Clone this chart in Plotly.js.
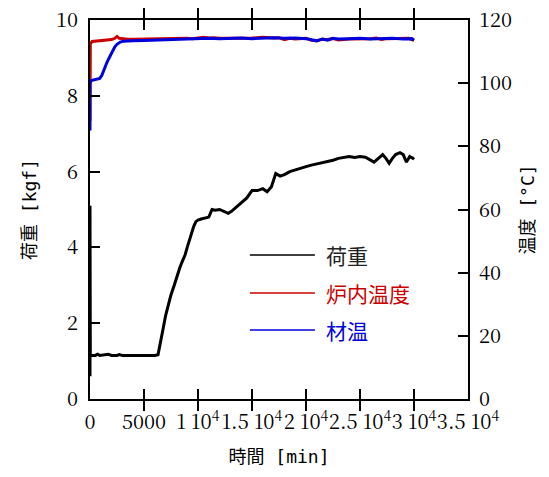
<!DOCTYPE html>
<html><head><meta charset="utf-8">
<script src="https://cdn.plot.ly/plotly-3.0.1.min.js"></script>
<style>body{margin:0;background:#fff}#c{width:549px;height:477px}</style>
</head><body><div id="c"></div>
<script>
const seriesNames = ['荷重', '炉内温度', '材温'];
const seriesColors = ['#000000', '#cc0000', '#0000dd'];

const loadT = [0,0,30,500,700,900,1500,1700,2000,2500,2700,3000,4000,5000,6000,6300,6500,6800,7000,7300,7500,7800,8000,8300,8500,8800,9000,9300,9600,9800,10000,10300,10700,11000,11300,11600,12000,12400,12800,13100,13500,14000,14500,15000,15500,16000,16400,16800,17200,17600,18000,18500,19000,19500,20000,20500,21000,21500,22000,22500,23000,23500,24000,24500,25000,25500,26000,26300,26700,27100,27400,27700,28000,28300,28700,29000,29300,29600,29900,30000];
const loadV = [0.6,5.1,1.15,1.15,1.18,1.15,1.16,1.18,1.15,1.15,1.17,1.15,1.15,1.15,1.15,1.17,1.5,1.9,2.2,2.55,2.75,3.0,3.2,3.45,3.6,3.8,4.0,4.3,4.55,4.68,4.72,4.75,4.78,4.8,5.0,4.98,5.0,4.95,4.9,4.95,5.05,5.15,5.3,5.5,5.5,5.55,5.47,5.6,5.95,5.88,5.92,6.0,6.05,6.1,6.13,6.17,6.2,6.25,6.27,6.3,6.35,6.38,6.4,6.37,6.4,6.38,6.3,6.25,6.35,6.45,6.35,6.22,6.35,6.45,6.5,6.45,6.25,6.4,6.35,6.38];

const furnT = [0,0,30,200,500,800,1200,1500,2000,2300,2500,2700,3000,3500,4000,5000,6000,6500,7000,8000,9000,9500,10000,10500,11000,11500,12000,13000,14000,15000,16000,17000,17500,18000,18500,19000,20000,20500,21000,21500,22000,22500,23000,24000,25000,26000,26500,27000,27500,28000,29000,29500,30000];
const furnV = [88,109,112.5,113.2,113.3,113.4,113.5,113.6,113.8,114.2,114.8,114.2,114.0,113.9,113.9,114.0,113.9,114.1,114.1,114.1,114.2,114.1,114.2,114.5,114.3,114.4,114.2,114.1,114.2,114.3,114.5,114.3,114.4,113.8,114.2,114.0,114.2,113.6,113.4,113.9,113.8,114.1,113.7,114.0,114.0,114.1,114.3,113.8,114.1,114.1,114.0,114.2,113.6];

const matT = [0,0,100,300,600,900,1100,1300,1500,1700,1900,2100,2300,2500,2800,3100,3500,4000,5000,6000,7000,8000,9000,10000,11000,12000,13000,14000,15000,16000,17000,18000,19000,20000,20500,21000,21500,22000,22500,23000,24000,25000,26000,27000,28000,29000,29800,30000];
const matV = [85,100,100.8,101.0,101.2,101.5,102.5,104.5,106,107.5,109,110.5,111.5,112.3,113.0,113.3,113.4,113.4,113.5,113.6,113.9,114.0,114.0,114.1,114.2,114.1,114.2,114.3,114.1,114.3,114.4,114.2,114.3,114.1,113.8,113.4,114.0,113.6,114.2,114.0,114.1,114.2,114.0,114.1,114.2,114.0,114.1,113.6];

const xTickVals = [0,5000,10000,15000,20000,25000,30000,35000];
const xTickText = ['0','5000','1 10<sup>4</sup>','1.5 10<sup>4</sup>','2 10<sup>4</sup>','2.5 10<sup>4</sup>','3 10<sup>4</sup>','3.5 10<sup>4</sup>'];

const serif = 'Noto Serif CJK JP';
const jp = '"Noto Sans CJK JP", sans-serif';
const jpMono = '"DejaVu Sans Mono", "Noto Sans CJK JP", monospace';

const traces = [
  {x: loadT, y: loadV, mode:'lines', line:{color:seriesColors[0], width:3}, yaxis:'y', showlegend:false, name:seriesNames[0]},
  {x: furnT, y: furnV, mode:'lines', line:{color:seriesColors[1], width:3}, yaxis:'y2', showlegend:false, name:seriesNames[1]},
  {x: matT, y: matV, mode:'lines', line:{color:seriesColors[2], width:3}, yaxis:'y2', showlegend:false, name:seriesNames[2]}
];

const legX0 = 0.423, legX1 = 0.595, legTX = 0.618;
const legY = [0.380, 0.280, 0.182];
const shapes = legY.map((yy,i)=>({type:'line', xref:'paper', yref:'paper', x0:legX0, x1:legX1, y0:yy, y1:yy, line:{color:seriesColors[i], width:1.5}}));
const annotations = legY.map((yy,i)=>({xref:'paper', yref:'paper', x:legTX, y:yy, xanchor:'left', yanchor:'middle', showarrow:false, text:seriesNames[i], font:{family:jp, size:21, color:seriesColors[i]==='#000000'?'#222':seriesColors[i]}}));

const layout = {
  width:549, height:477,
  margin:{l:90, r:81, t:20, b:78},
  paper_bgcolor:'#fff', plot_bgcolor:'#fff',
  showlegend:false,
  xaxis:{range:[0,35000], tickvals:xTickVals, ticktext:xTickText, tickangle:0,
    ticks:'inside', ticklen:10, tickwidth:2, tickcolor:'#000',
    showline:true, linewidth:2, linecolor:'#000', mirror:'allticks',
    showgrid:false, zeroline:false, ticklabelstandoff:4,
    tickfont:{family:serif, size:20, color:'#000'},
    title:{text:'時間 [min]', font:{family:jpMono, size:18, color:'#000'}, standoff:16}},
  yaxis:{range:[0,10], dtick:2, tick0:0,
    ticks:'inside', ticklen:10, tickwidth:2, tickcolor:'#000',
    showline:true, linewidth:2, linecolor:'#000', mirror:false,
    showgrid:false, zeroline:false, ticklabelstandoff:6,
    tickfont:{family:serif, size:20, color:'#000'},
    title:{text:'荷重 [kgf]', font:{family:jpMono, size:18, color:'#000'}, standoff:15}},
  yaxis2:{range:[0,120], dtick:20, tick0:0, overlaying:'y', side:'right',
    ticks:'inside', ticklen:10, tickwidth:2, tickcolor:'#000',
    showline:true, linewidth:2, linecolor:'#000',
    showgrid:false, zeroline:false, ticklabelstandoff:5,
    tickfont:{family:serif, size:20, color:'#000'},
    title:{text:'温度 [°C]', font:{family:jpMono, size:18, color:'#000'}, standoff:10}},
  shapes:shapes, annotations:annotations
};

Plotly.newPlot('c', traces, layout, {displayModeBar:false, staticPlot:true});
</script></body></html>
